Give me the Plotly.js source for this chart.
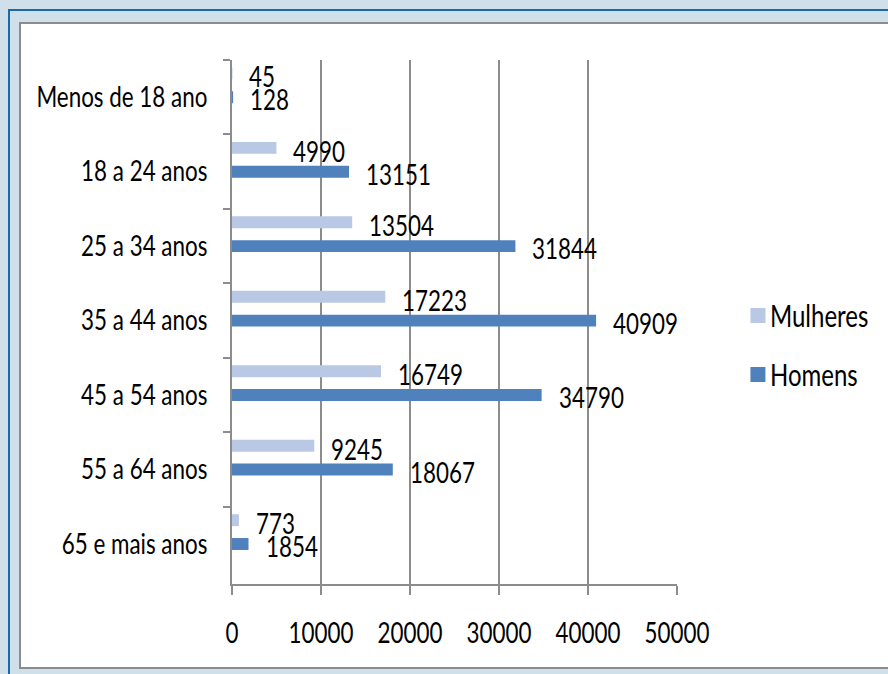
<!DOCTYPE html>
<html>
<head>
<meta charset="utf-8">
<script src="https://cdn.plot.ly/plotly-3.0.1.min.js"></script>
<style>
  html, body { margin:0; padding:0; width:888px; height:674px; overflow:hidden; background:#cfe0ea; }
  #blue { position:absolute; left:8px; top:9px; width:1200px; height:1200px; border-left:2px solid #1b6aa5; border-top:2px solid #1b6aa5; box-sizing:border-box; }
  #panel { position:absolute; left:19px; top:22px; width:1200px; height:647px; background:#fff; border:2px solid #8c8c8c; box-sizing:border-box; }
  #chart { position:absolute; left:0; top:0; width:888px; height:674px; }
</style>
</head>
<body>
<div id="blue"></div>
<div id="panel"></div>
<div id="chart"></div>
<script>
const categories = ["Menos de 18 ano","18 a 24 anos","25 a 34 anos","35 a 44 anos","45 a 54 anos","55 a 64 anos","65 e mais anos"];
const mulheres = [45, 4990, 13504, 17223, 16749, 9245, 773];
const homens = [128, 13151, 31844, 40909, 34790, 18067, 1854];
const xTicks = [0, 10000, 20000, 30000, 40000, 50000];

const FONT = "Lato, 'Open Sans', sans-serif";
const SQUEEZE = 0.8;

const traces = [
  { type:'bar', orientation:'h', name:'Mulheres', y:categories, x:mulheres,
    marker:{color:'#b9c8e4'}, width:0.16, offset:-0.40, legendgroup:'m', hoverinfo:'none' },
  { type:'bar', orientation:'h', name:'Homens', y:categories, x:homens,
    marker:{color:'#4f81bd'}, width:0.16, offset:-0.08, legendgroup:'h', hoverinfo:'none' }
];

const annotations = [];
categories.forEach((c, i) => {
  annotations.push({ x:mulheres[i], y:c, text:String(mulheres[i]), showarrow:false,
    xanchor:'left', yanchor:'middle', xshift:15, yshift:21, font:{family:FONT, size:28, color:'#000'} });
  annotations.push({ x:homens[i], y:c, text:String(homens[i]), showarrow:false,
    xanchor:'left', yanchor:'middle', xshift:15, yshift:-2, font:{family:FONT, size:28, color:'#000'} });
});

const layout = {
  width:888, height:674,
  paper_bgcolor:'rgba(0,0,0,0)', plot_bgcolor:'rgba(0,0,0,0)',
  margin:{l:232, r:211, t:60, b:90, pad:0, autoexpand:false},
  font:{family:FONT, size:28, color:'#000'},
  showlegend:true,
  legend:{xref:'container', yref:'container', x:0.822, xanchor:'left', y:0.488, yanchor:'middle', tracegroupgap:17,
    traceorder:'grouped', font:{family:FONT, size:30, color:'#000'}, bgcolor:'rgba(0,0,0,0)'},
  xaxis:{range:[0,50000], tickvals:xTicks, ticktext:xTicks.map(String), showgrid:true,
    gridcolor:'#8c8c8c', gridwidth:1.5, zeroline:false, showline:true, linecolor:'#8c8c8c', linewidth:2,
    ticks:'outside', ticklen:9, tickwidth:2, tickcolor:'#8c8c8c', ticklabelstandoff:14,
    tickfont:{family:FONT, size:28, color:'#000'}, fixedrange:true, automargin:false},
  yaxis:{type:'category', autorange:'reversed', showgrid:false, zeroline:false, showline:true,
    linecolor:'#8c8c8c', linewidth:2, ticks:'outside', ticklen:7, tickwidth:2, tickcolor:'#8c8c8c',
    tickson:'boundaries', ticklabelstandoff:17, tickfont:{family:FONT, size:28, color:'#000'}, fixedrange:true, automargin:false},
  annotations:annotations
};

Plotly.newPlot('chart', traces, layout, {displayModeBar:false, staticPlot:true}).then(() => {
  // narrow the glyphs horizontally, keeping each text's anchor point fixed
  document.querySelectorAll('#chart svg text').forEach(t => {
    const anchor = t.getAttribute('text-anchor') || 'start';
    const bb = t.getBBox();
    let ax = anchor === 'end' ? bb.x + bb.width : anchor === 'middle' ? bb.x + bb.width / 2 : bb.x;
    if (t.closest('.annotation')) ax = bb.x; // keep left edge of value labels
    const prev = t.getAttribute('transform') || '';
    t.setAttribute('transform', prev + ` translate(${ax},0) scale(${SQUEEZE},1) translate(${-ax},0)`);
  });
  // larger legend squares, closer to their labels
  document.querySelectorAll('#chart .legendpoints path').forEach(p => {
    p.setAttribute('d', 'M15.5,7.5H0.5V-7.5H15.5Z');
  });
});
</script>
</body>
</html>
